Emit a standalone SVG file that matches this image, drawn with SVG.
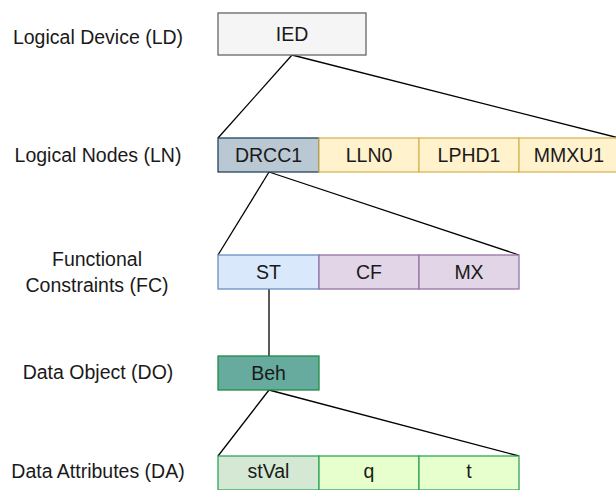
<svg xmlns="http://www.w3.org/2000/svg" width="616" height="490" viewBox="0 0 616 490">
<style>
text{font-family:"Liberation Sans",Arial,sans-serif;font-size:19.5px;fill:#1a1a1a;text-anchor:middle;dominant-baseline:central}
.b{stroke-width:1.3}
.ld{fill:#f5f5f5;stroke:#666666}
.dr{fill:#bac8d3;stroke:#23445d}
.ye{fill:#fff2cc;stroke:#d6b656}
.bl{fill:#dae8fc;stroke:#6c8ebf}
.pu{fill:#e1d5e7;stroke:#9673a6}
.gd{fill:#67ab9f;stroke:#1e8c45}
.gs{fill:#d5e8d4;stroke:#2ea55a}
.gl{fill:#e6ffcc;stroke:#2ea55a}
.c{stroke:#000;stroke-width:1.3;fill:none}
</style>
<rect width="616" height="490" fill="#fff"/>
<g id="labels">
<text x="98" y="37">Logical Device (LD)</text>
<text x="98" y="155">Logical Nodes (LN)</text>
<text x="97" y="259">Functional</text>
<text x="97" y="285">Constraints (FC)</text>
<text x="98" y="372">Data Object (DO)</text>
<text x="98" y="471">Data Attributes (DA)</text>
</g>
<g id="connectors">
<line class="c" x1="292" y1="55" x2="218" y2="138"/>
<line class="c" x1="292" y1="55" x2="619" y2="138"/>
<line class="c" x1="269" y1="172" x2="218" y2="255"/>
<line class="c" x1="269" y1="172" x2="519" y2="255"/>
<line class="c" x1="269" y1="289" x2="269" y2="356"/>
<line class="c" x1="269" y1="390" x2="218" y2="456"/>
<line class="c" x1="269" y1="390" x2="519" y2="456"/>
</g>
<g id="IED"><rect class="b ld" x="218" y="13" width="148" height="42"/><text x="292" y="34">IED</text></g>
<g id="DRCC1"><rect class="b dr" x="218" y="138" width="101" height="34"/><text x="268.5" y="155">DRCC1</text></g>
<g id="LLN0"><rect class="b ye" x="319" y="138" width="100" height="34"/><text x="369" y="155">LLN0</text></g>
<g id="LPHD1"><rect class="b ye" x="419" y="138" width="100" height="34"/><text x="469" y="155">LPHD1</text></g>
<g id="MMXU1"><rect class="b ye" x="519" y="138" width="100" height="34"/><text x="569" y="155">MMXU1</text></g>
<g id="ST"><rect class="b bl" x="218" y="255" width="101" height="34"/><text x="268.5" y="272">ST</text></g>
<g id="CF"><rect class="b pu" x="319" y="255" width="100" height="34"/><text x="369" y="272">CF</text></g>
<g id="MX"><rect class="b pu" x="419" y="255" width="100" height="34"/><text x="469" y="272">MX</text></g>
<g id="Beh"><rect class="b gd" x="218" y="356" width="101" height="34"/><text x="268.5" y="373">Beh</text></g>
<g id="stVal"><rect class="b gs" x="218" y="456" width="101" height="34"/><text x="268.5" y="471">stVal</text></g>
<g id="q"><rect class="b gl" x="319" y="456" width="100" height="34"/><text x="369" y="471">q</text></g>
<g id="t"><rect class="b gl" x="419" y="456" width="100" height="34"/><text x="469" y="471">t</text></g>
</svg>
